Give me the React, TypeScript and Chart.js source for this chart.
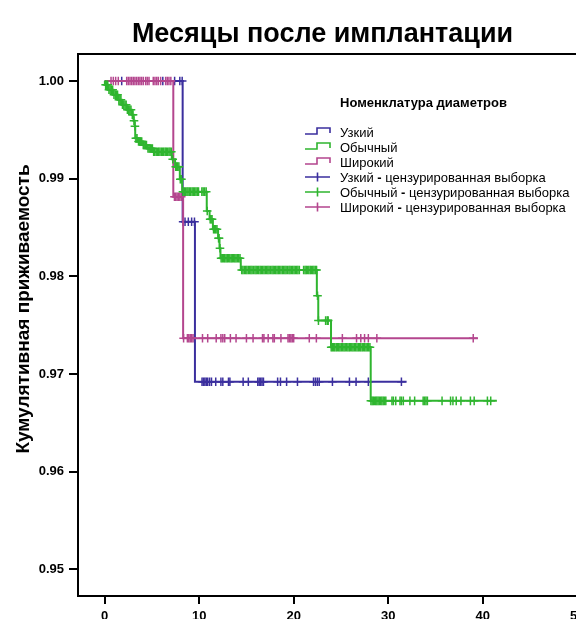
import React, { useEffect, useRef } from 'react';
import { Chart, registerables } from 'chart.js';

Chart.register(...registerables);

const chartTitle = 'Месяцы после имплантации';
const yAxisTitle = 'Кумулятивная приживаемость';
const legendTitle = 'Номенклатура диаметров';
const groupNames = ['Узкий', 'Обычный', 'Широкий'];
const censorSuffix = 'цензурированная выборка';
const groupColors = ['#3b2f9e', '#2fb52f', '#b4468e'];

const xTickValues = [0, 10, 20, 30, 40, 50];
const xTickLabels = ['0', '10', '20', '30', '40', '50'];
const yTickValues = [0.95, 0.96, 0.97, 0.98, 0.99, 1.0];
const yTickLabels = ['0.95', '0.96', '0.97', '0.98', '0.99', '1.00'];

// Узкий
const narrowTimes = [0, 8.25, 9.55, 31.95];
const narrowSurvival = [1.0, 0.98559, 0.96921, 0.96921];
const narrowCensored = [
  1.8, 6.15, 7.4, 7.95, 8.2, 8.3, 8.5, 8.85, 9.2, 9.5,
  10.3, 10.45, 10.6, 10.75, 10.9, 11.1, 11.3, 11.75, 12.3, 12.5, 13.1, 13.25,
  14.65, 15.2, 16.2, 16.35, 16.5, 16.65, 16.8, 18.3, 18.6, 19.25, 20.4,
  22.1, 22.3, 22.5, 22.7, 24.1, 25.9, 26.6, 27.9, 31.4,
];

// Обычный
const normalTimes = [
  0, 0.02, 0.38, 0.91, 1.44, 1.8, 2.33, 2.86, 3.05, 3.18,
  3.23, 3.5, 4.0, 4.5, 5.1, 7.1, 7.45, 7.95, 8.2, 10.8,
  11.1, 11.45, 12.0, 12.15, 12.25, 14.4, 22.45, 22.6, 23.95, 28.15,
  41.5,
];
const normalSurvival = [
  1.0, 0.99962, 0.99911, 0.9986, 0.99809, 0.99757, 0.99706, 0.99655, 0.99594, 0.99536,
  0.99413, 0.99381, 0.99345, 0.99309, 0.99276, 0.99199, 0.99123, 0.98994, 0.98867, 0.98669,
  0.98584, 0.98482, 0.9839, 0.98288, 0.98185, 0.98065, 0.97802, 0.97547, 0.97274, 0.96725,
  0.96725,
];
const normalCensored = [
  0.1, 0.22, 0.32, 0.45, 0.58, 0.72, 0.84, 0.98, 1.12, 1.25, 1.36, 1.5, 1.62, 1.72,
  1.88, 2.02, 2.15, 2.27, 2.4, 2.53, 2.66, 2.78, 2.92, 3.0, 3.1, 3.2, 3.3, 3.42,
  3.58, 3.7, 3.8, 3.92, 4.08, 4.18, 4.3, 4.42, 4.58, 4.7, 4.82, 4.95, 5.05,
  5.18, 5.3, 5.45, 5.6, 5.72, 5.85, 6.0, 6.12, 6.25, 6.4, 6.52, 6.65, 6.8, 6.92, 7.05,
  7.2, 7.52, 7.62, 7.72, 7.85, 8.0, 8.12,
  8.28, 8.42, 8.55, 8.7, 8.82, 8.96, 9.1, 9.25, 9.38, 9.52, 9.66, 9.8, 9.93, 10.28, 10.42, 10.58, 10.74,
  10.85, 11.16, 11.26, 11.36, 11.52, 11.63, 11.75, 11.88, 12.05, 12.1, 12.2,
  12.32, 12.45, 12.58, 12.7, 12.84, 12.97, 13.1, 13.24, 13.38, 13.5, 13.64, 13.77, 13.9, 14.04, 14.18, 14.32,
  14.5, 14.63, 14.78, 14.92, 15.05, 15.2, 15.34, 15.47, 15.6, 15.75, 15.9, 16.03, 16.16, 16.3, 16.45,
  16.58, 16.72, 16.86, 17.0, 17.14, 17.27, 17.4, 17.55, 17.7, 17.83, 17.96, 18.1, 18.24, 18.38, 18.5,
  18.65, 18.8, 18.93, 19.07, 19.2, 19.35, 19.5, 19.62, 19.76, 19.9, 20.04, 20.18, 20.32, 20.45, 20.6,
  21.05, 21.2, 21.33, 21.46, 21.6, 21.75, 21.88, 22.02, 22.15, 22.3, 22.42,
  22.52, 22.62, 23.38, 23.55, 23.65,
  23.97, 24.1, 24.22, 24.35, 24.5, 24.63, 24.77, 24.9, 25.04, 25.18, 25.32, 25.45, 25.6, 25.74, 25.88,
  26.0, 26.15, 26.28, 26.42, 26.56, 26.7, 26.84, 26.97, 27.1, 27.25, 27.38, 27.52, 27.66, 27.8, 27.93, 28.07,
  28.17, 28.3, 28.42, 28.55, 28.68, 28.8, 28.93, 29.06, 29.2, 29.33, 29.47, 29.6, 29.75,
  30.4, 30.55, 30.8, 31.25, 31.4, 31.6, 32.3, 32.8, 33.7, 33.85, 34.0, 34.15,
  35.7, 36.6, 36.85, 37.2, 37.7, 38.7, 39.1, 40.5, 40.85,
];

// Широкий
const wideTimes = [0, 7.26, 8.3, 39.5];
const wideSurvival = [1.0, 0.98815, 0.97366, 0.97366];
const wideCensored = [
  0.67, 0.91, 1.16, 1.44, 2.33, 2.5, 2.68, 2.86, 3.03, 3.2, 3.38, 3.56, 3.73, 3.9, 4.08,
  4.33, 4.5, 4.69, 5.14, 5.32, 5.5, 5.67, 5.92, 6.45, 6.62, 6.8, 7.0,
  7.38, 7.52, 7.66, 7.8, 7.95, 8.1,
  8.35, 8.75, 8.9, 9.05, 9.2, 9.35, 10.35, 10.9, 11.8, 12.3, 12.5, 12.7, 13.3, 13.9,
  15.0, 15.7, 16.7, 16.85, 17.3, 17.8, 17.95, 18.65, 19.4, 19.55, 19.7, 19.85, 20.0,
  21.65, 22.4, 25.15, 26.65, 27.1, 27.5, 27.9, 28.8, 39.0,
];

const groups = [
  { times: narrowTimes, surv: narrowSurvival, censored: narrowCensored, order: 2 },
  { times: normalTimes, surv: normalSurvival, censored: normalCensored, order: 0 },
  { times: wideTimes, surv: wideSurvival, censored: wideCensored, order: 1 },
];

function levelAt(times: number[], surv: number[], t: number): number {
  let s = surv[0];
  for (let i = 0; i < times.length; i++) {
    if (times[i] <= t) s = surv[i];
  }
  return s;
}

const FONT = '"Liberation Sans", Arial, Helvetica, sans-serif';

const decorPlugin = {
  id: 'decor',
  afterDraw(chart: any) {
    const ctx = chart.ctx as CanvasRenderingContext2D;
    const a = chart.chartArea;
    ctx.save();
    // frame top / right
    ctx.strokeStyle = '#000';
    ctx.lineWidth = 2;
    ctx.beginPath();
    ctx.moveTo(a.left - 1, a.top);
    ctx.lineTo(a.right, a.top);
    ctx.lineTo(a.right, a.bottom);
    ctx.stroke();

    // main title
    ctx.fillStyle = '#000';
    ctx.textAlign = 'center';
    ctx.textBaseline = 'alphabetic';
    ctx.font = `bold 27px ${FONT}`;
    ctx.fillText(chartTitle, 322.5, 41.5);

    // y axis title
    ctx.save();
    ctx.translate(28.5, 309);
    ctx.rotate(-Math.PI / 2);
    ctx.font = `bold 19px ${FONT}`;
    ctx.fillText(yAxisTitle, 0, 0);
    ctx.restore();

    // legend
    ctx.textAlign = 'left';
    ctx.font = `bold 13px ${FONT}`;
    ctx.fillText(legendTitle, 340, 106.5);
    const iconL = 305;
    const iconR = 330;
    const textX = 340;
    for (let i = 0; i < 6; i++) {
      const b = 136.5 + 15 * i;
      const gi = i % 3;
      const color = groupColors[gi];
      ctx.strokeStyle = color;
      ctx.lineWidth = 1.6;
      ctx.beginPath();
      if (i < 3) {
        ctx.moveTo(iconL, b - 2.5);
        ctx.lineTo(317, b - 2.5);
        ctx.lineTo(317, b - 8.5);
        ctx.lineTo(iconR, b - 8.5);
        ctx.lineTo(iconR, b - 3.5);
      } else {
        const cy = b - 4.5;
        ctx.moveTo(iconL, cy);
        ctx.lineTo(iconR, cy);
        ctx.moveTo(317.5, cy - 4.5);
        ctx.lineTo(317.5, cy + 4.5);
      }
      ctx.stroke();
      ctx.fillStyle = '#000';
      ctx.font = `13px ${FONT}`;
      const name = groupNames[gi];
      ctx.fillText(name, textX, b);
      if (i >= 3) {
        let x = textX + ctx.measureText(name).width;
        ctx.font = `bold 13px ${FONT}`;
        ctx.fillText(' - ', x, b);
        x += ctx.measureText(' - ').width;
        ctx.font = `13px ${FONT}`;
        ctx.fillText(censorSuffix, x, b);
      }
    }
    ctx.restore();
  },
};

export default function App() {
  const canvasRef = useRef<HTMLCanvasElement | null>(null);

  useEffect(() => {
    const canvas = canvasRef.current;
    if (!canvas) return;

    const datasets: any[] = [];
    groups.forEach((g, gi) => {
      datasets.push({
        type: 'line',
        label: groupNames[gi],
        data: g.times.map((t, i) => ({ x: t, y: g.surv[i] })),
        stepped: 'before',
        borderColor: groupColors[gi],
        backgroundColor: groupColors[gi],
        borderWidth: 2,
        pointRadius: 0,
        fill: false,
        order: g.order,
      });
      datasets.push({
        type: 'line',
        label: groupNames[gi] + ' - ' + censorSuffix,
        data: g.censored.map((t) => ({ x: t, y: levelAt(g.times, g.surv, t) })),
        showLine: false,
        pointStyle: 'cross',
        pointRadius: 4.3,
        pointBorderWidth: 1.5,
        borderColor: groupColors[gi],
        backgroundColor: groupColors[gi],
        order: g.order,
      });
    });

    const axisGrid = {
      display: true,
      drawOnChartArea: false,
      drawTicks: true,
      tickLength: 8,
      tickColor: '#000',
      tickWidth: 2,
      color: '#000',
      lineWidth: 2,
    };

    const chart = new Chart(canvas, {
      type: 'line',
      data: { datasets },
      plugins: [decorPlugin],
      options: {
        responsive: false,
        animation: false,
        events: [],
        layout: { padding: { top: 54, right: 20, bottom: 0, left: 0 } },
        plugins: {
          legend: { display: false },
          title: { display: false },
          tooltip: { enabled: false },
        },
        scales: {
          x: {
            type: 'linear',
            min: -2.825,
            max: 55.06,
            afterBuildTicks: (axis: any) => {
              axis.ticks = xTickValues.map((v) => ({ value: v }));
            },
            afterFit: (axis: any) => {
              axis.height = 23;
            },
            grid: axisGrid,
            border: { display: true, color: '#000', width: 2 },
            ticks: {
              color: '#000',
              padding: 5,
              maxRotation: 0,
              font: { family: FONT, size: 13, weight: 'bold' },
              callback: (v: any) => {
                const i = xTickValues.indexOf(Number(v));
                return i >= 0 ? xTickLabels[i] : '';
              },
            },
          },
          y: {
            type: 'linear',
            min: 0.94727,
            max: 1.002765,
            afterBuildTicks: (axis: any) => {
              axis.ticks = yTickValues.map((v) => ({ value: v }));
            },
            afterFit: (axis: any) => {
              axis.width = 78;
            },
            grid: { ...axisGrid, tickLength: 9 },
            border: { display: true, color: '#000', width: 2 },
            ticks: {
              color: '#000',
              padding: 5,
              font: { family: FONT, size: 13, weight: 'bold' },
              callback: (v: any) => {
                const i = yTickValues.findIndex((t) => Math.abs(t - Number(v)) < 1e-6);
                return i >= 0 ? yTickLabels[i] : '';
              },
            },
          },
        },
      } as any,
    });

    return () => {
      chart.destroy();
    };
  }, []);

  return (
    <div
      style={{
        position: 'fixed',
        left: 0,
        top: 0,
        width: 576,
        height: 619,
        overflow: 'hidden',
        background: '#fff',
      }}
    >
      <canvas ref={canvasRef} width={645} height={619} style={{ display: 'block' }} />
    </div>
  );
}
